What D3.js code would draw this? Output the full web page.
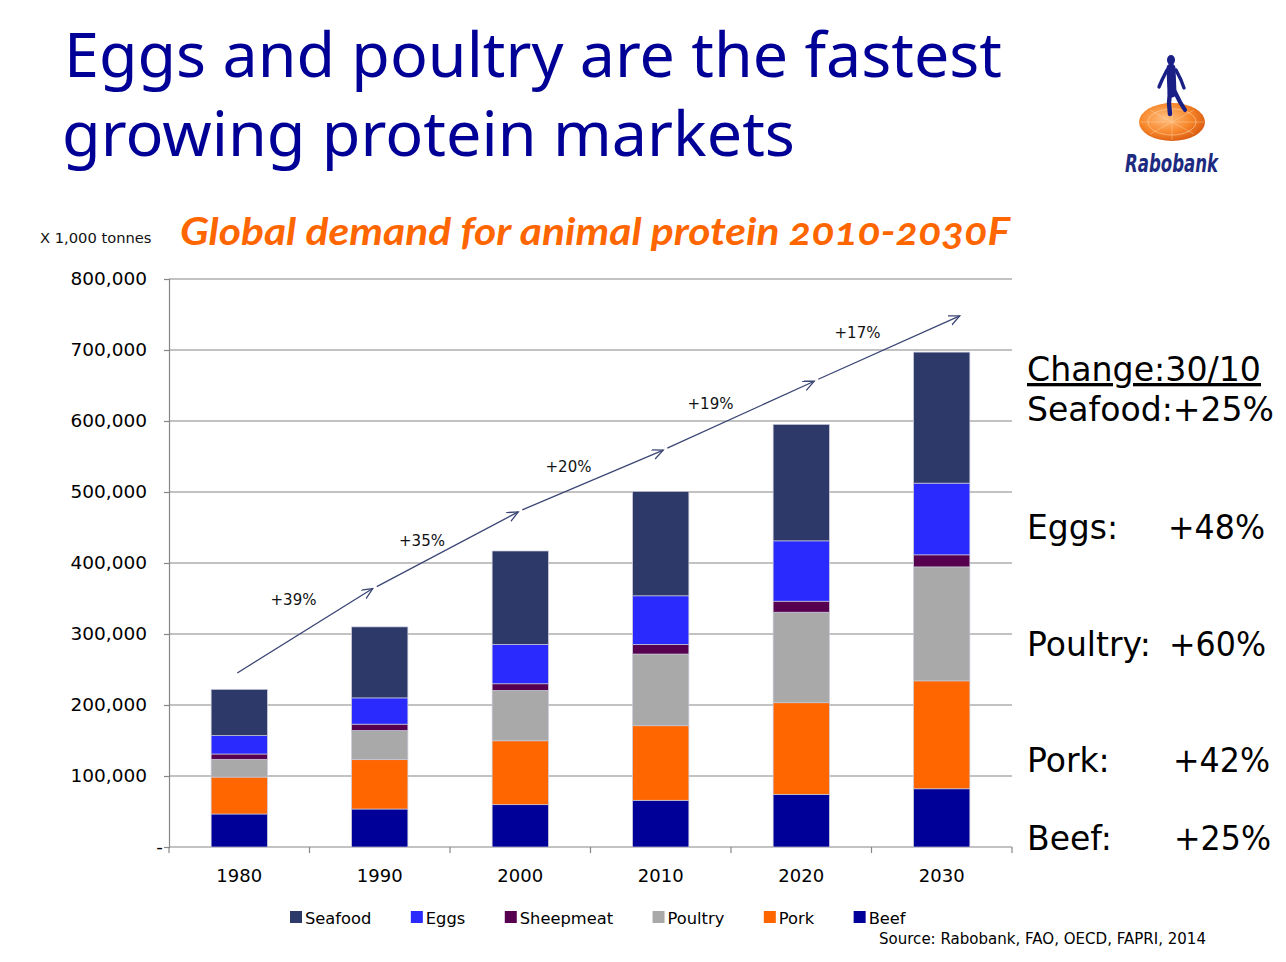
<!DOCTYPE html>
<html><head><meta charset="utf-8">
<script src="https://cdn.jsdelivr.net/npm/d3@7"></script>
<style>body{margin:0;background:#fff}svg{display:block}</style>
</head><body><svg id="c" width="1286" height="962"></svg>
<script>
// ---------- data ----------
const years = ["1980", "1990", "2000", "2010", "2020", "2030"];
const seriesOrder = ["Beef", "Pork", "Poultry", "Sheepmeat", "Eggs", "Seafood"];
const legendOrder = ["Seafood", "Eggs", "Sheepmeat", "Poultry", "Pork", "Beef"];
const beef      = [46500, 53500, 59600, 65800, 74200, 82000];
const pork      = [52000, 69500, 90000, 105000, 129000, 152000];
const poultry   = [25000, 41000, 71000, 101000, 127500, 160500];
const sheepmeat = [7500, 9000, 9300, 13500, 15500, 17000];
const eggs      = [26000, 37000, 55500, 68500, 85000, 101000];
const seafood   = [65000, 100000, 131500, 147000, 164000, 184500];
const yTicks = [0, 100000, 200000, 300000, 400000, 500000, 600000, 700000, 800000];
const growthLabels = ["+39%", "+35%", "+20%", "+19%", "+17%"];
const trendValues = [245000, 364000, 472000, 559000, 656000, 748000];
const growthLabelValues = [348000, 431000, 535000, 624000, 724000];
const changeHeader = "Change:30/10";
const changeSeafood = "Seafood:+25%";
const changeNames = ["Eggs:", "Poultry:", "Pork:", "Beef:"];
const changeValues = ["+48%", "+60%", "+42%", "+25%"];

const colors = {Seafood: "#2d3a69", Eggs: "#2a2aff", Sheepmeat: "#570050",
                Poultry: "#a9a9a9", Pork: "#ff6600", Beef: "#000099"};

// ---------- layout ----------
const svg = d3.select("#c");
const L = 169, R = 1012, T = 279, B = 847;
const x = d3.scaleBand().domain(years).range([L, R]).paddingInner(0.6).paddingOuter(0.3);
const y = d3.scaleLinear().domain([0, 800000]).range([B, T]);
const gridCol = "#868686";

// ---------- titles ----------
function fitText(sel, w) { sel.attr("textLength", w).attr("lengthAdjust", "spacingAndGlyphs"); }
fitText(svg.append("text").attr("x", 64).attr("y", 77)
  .attr("font-family", "Noto Sans, Open Sans, sans-serif").attr("font-size", 62)
  .attr("fill", "#000096").text("Eggs and poultry are the fastest"), 938);
fitText(svg.append("text").attr("x", 62).attr("y", 156)
  .attr("font-family", "Noto Sans, Open Sans, sans-serif").attr("font-size", 62)
  .attr("fill", "#000096").text("growing protein markets"), 733);

fitText(svg.append("text").attr("x", 180).attr("y", 245)
  .attr("font-family", "Lato, Open Sans, sans-serif").attr("font-size", 38)
  .attr("font-weight", "bold").attr("font-style", "italic")
  .style("font-variant-numeric", "oldstyle-nums")
  .attr("fill", "#ff6600").text("Global demand for animal protein 2010-2030F"), 830);

svg.append("text").attr("x", 40).attr("y", 243)
  .attr("font-family", "DejaVu Sans, sans-serif").attr("font-size", 14.7)
  .attr("fill", "#111").text("X 1,000 tonnes");

// ---------- logo ----------
const defs = svg.append("defs");
const rg = defs.append("radialGradient").attr("id", "disc").attr("cx", "40%").attr("cy", "40%").attr("r", "65%");
rg.append("stop").attr("offset", "0%").attr("stop-color", "#ffc080");
rg.append("stop").attr("offset", "60%").attr("stop-color", "#f7862a");
rg.append("stop").attr("offset", "100%").attr("stop-color", "#d85a10");
const logo = svg.append("g");
logo.append("ellipse").attr("cx", 1172).attr("cy", 122).attr("rx", 33).attr("ry", 19).attr("fill", "url(#disc)");
logo.append("ellipse").attr("cx", 1172).attr("cy", 122).attr("rx", 24).attr("ry", 13)
  .attr("fill", "none").attr("stroke", "#ffd0a0").attr("stroke-width", 0.8).attr("opacity", 0.8);
[[1140,122,1204,122],[1172,104,1172,140],[1150,110,1194,134],[1150,134,1194,110]].forEach(d =>
  logo.append("line").attr("x1", d[0]).attr("y1", d[1]).attr("x2", d[2]).attr("y2", d[3])
    .attr("stroke", "#ffd8b0").attr("stroke-width", 0.6).attr("opacity", 0.7));
const fig = logo.append("g").attr("stroke", "#1a1f86").attr("stroke-linecap", "round")
  .attr("stroke-linejoin", "round").attr("fill", "none");
logo.append("ellipse").attr("cx", 1171).attr("cy", 60).attr("rx", 4).attr("ry", 5).attr("fill", "#1a1f86");
fig.append("path").attr("d", "M1171,68 L1172,93").attr("stroke-width", 9);
fig.append("path").attr("d", "M1167,70 L1162,80 L1159,87").attr("stroke-width", 3.4);
fig.append("path").attr("d", "M1176,70 L1181,80 L1184,88").attr("stroke-width", 3.4);
fig.append("path").attr("d", "M1170,92 L1169,103 L1170,114").attr("stroke-width", 4.4);
fig.append("path").attr("d", "M1175,92 L1180,102 L1185,110").attr("stroke-width", 4.2);
fitText(logo.append("text").attr("x", 1125).attr("y", 172)
  .attr("font-family", "DejaVu Sans, sans-serif").attr("font-size", 24)
  .attr("font-weight", "bold").attr("font-style", "italic")
  .attr("fill", "#1c2a80").text("Rabobank"), 93);

// ---------- grid & axes ----------
svg.append("g").selectAll("line").data(yTicks.filter(d => d > 0)).join("line")
  .attr("x1", L).attr("x2", R).attr("y1", d => y(d)).attr("y2", d => y(d))
  .attr("stroke", gridCol).attr("stroke-width", 1.2);

const yAxis = svg.append("g").attr("transform", `translate(${L},0)`)
  .call(d3.axisLeft(y).tickValues(yTicks).tickSize(5).tickPadding(17)
    .tickFormat(d => d === 0 ? "-" : d3.format(",")(d)));
yAxis.select(".domain").attr("stroke", gridCol).attr("stroke-width", 1.2);
yAxis.selectAll(".tick line").attr("stroke", gridCol).attr("stroke-width", 1.2);
yAxis.selectAll(".tick text").attr("font-family", "DejaVu Sans, sans-serif")
  .attr("font-size", 18.5).attr("fill", "#000");
yAxis.selectAll(".tick text").filter(d => d === 0).attr("dx", 16);

const xg = svg.append("g");
xg.append("line").attr("x1", L).attr("x2", R).attr("y1", B).attr("y2", B)
  .attr("stroke", gridCol).attr("stroke-width", 1.2);
const step = x.step();
xg.selectAll("line.t").data(d3.range(years.length + 1)).join("line").attr("class", "t")
  .attr("x1", i => L + i * step).attr("x2", i => L + i * step)
  .attr("y1", B).attr("y2", B + 6).attr("stroke", gridCol).attr("stroke-width", 1.2);
xg.selectAll("text").data(years).join("text")
  .attr("x", d => x(d) + x.bandwidth() / 2).attr("y", 882)
  .attr("text-anchor", "middle").attr("font-family", "DejaVu Sans, sans-serif")
  .attr("font-size", 18).attr("fill", "#000").text(d => d);

// ---------- bars ----------
const seriesArrays = {Beef: beef, Pork: pork, Poultry: poultry, Sheepmeat: sheepmeat, Eggs: eggs, Seafood: seafood};
const rows = years.map((yr, i) => {
  const r = {year: yr};
  seriesOrder.forEach(s => r[s] = seriesArrays[s][i]);
  return r;
});
const stacked = d3.stack().keys(seriesOrder)(rows);
svg.append("g").selectAll("g").data(stacked).join("g")
  .attr("fill", d => colors[d.key])
  .selectAll("rect").data(d => d).join("rect")
  .attr("x", d => x(d.data.year)).attr("width", x.bandwidth())
  .attr("y", d => y(d[1])).attr("height", d => y(d[0]) - y(d[1]))
  .attr("stroke", "#c9c9d9").attr("stroke-width", 0.7);

// ---------- trend arrow ----------
defs.append("marker").attr("id", "arr").attr("markerUnits", "userSpaceOnUse")
  .attr("markerWidth", 14).attr("markerHeight", 12).attr("refX", 11).attr("refY", 5)
  .attr("orient", "auto")
  .append("path").attr("d", "M0,0 L11,5 L0,10").attr("fill", "none")
  .attr("stroke", "#3b4675").attr("stroke-width", 1.3);
const arrowDx = [-2, -7, -2, 2.5, 13, 18];
const pts = trendValues.map((v, i) => [x(years[i]) + x.bandwidth() / 2 + arrowDx[i], y(v)]);
svg.append("g").selectAll("line").data(d3.range(pts.length - 1)).join("line")
  .attr("x1", i => pts[i][0] + (i ? 4 : 0)).attr("y1", i => pts[i][1] - (i ? 2 : 0))
  .attr("x2", i => pts[i + 1][0]).attr("y2", i => pts[i + 1][1])
  .attr("stroke", "#3b4675").attr("stroke-width", 1.3).attr("marker-end", "url(#arr)");
const labelDx = [-16, -28, -22, -20.5, -14];
svg.append("g").selectAll("text").data(growthLabels).join("text")
  .attr("x", (d, i) => L + (i + 1) * step + labelDx[i])
  .attr("y", (d, i) => y(growthLabelValues[i]) + 5)
  .attr("text-anchor", "middle").attr("font-family", "DejaVu Sans, sans-serif")
  .attr("font-size", 15).attr("fill", "#111").text(d => d);

// ---------- right-hand change text ----------
const rf = "DejaVu Sans, Verdana, sans-serif";
fitText(svg.append("text").attr("x", 1027).attr("y", 381).attr("font-family", rf).attr("font-size", 33)
  .attr("fill", "#000").attr("text-decoration", "underline").text(changeHeader), 234);
fitText(svg.append("text").attr("x", 1027).attr("y", 421).attr("font-family", rf).attr("font-size", 33)
  .attr("fill", "#000").text(changeSeafood), 247);
const changeY = [539, 656, 772, 850];
const changeX = [1168, 1169, 1173, 1174];
changeNames.forEach((n, i) => {
  svg.append("text").attr("x", 1027).attr("y", changeY[i]).attr("font-family", rf)
    .attr("font-size", 33).attr("fill", "#000").text(n);
  fitText(svg.append("text").attr("x", changeX[i]).attr("y", changeY[i]).attr("font-family", rf)
    .attr("font-size", 33).attr("fill", "#000").text(changeValues[i]), 97);
});

// ---------- legend ----------
const lg = svg.append("g");
let lx = 290;
legendOrder.forEach(k => {
  lg.append("rect").attr("x", lx).attr("y", 911).attr("width", 12).attr("height", 12).attr("fill", colors[k]);
  const t = lg.append("text").attr("x", lx + 15).attr("y", 924).attr("font-family", "DejaVu Sans, sans-serif")
    .attr("font-size", 16.3).attr("fill", "#000").text(k);
  lx = lx + 15 + t.node().getComputedTextLength() + 39.5;
});

fitText(svg.append("text").attr("x", 879).attr("y", 944).attr("font-family", "DejaVu Sans, sans-serif")
  .attr("font-size", 15).attr("fill", "#000").text("Source: Rabobank, FAO, OECD, FAPRI, 2014"), 327);
</script></body></html>
